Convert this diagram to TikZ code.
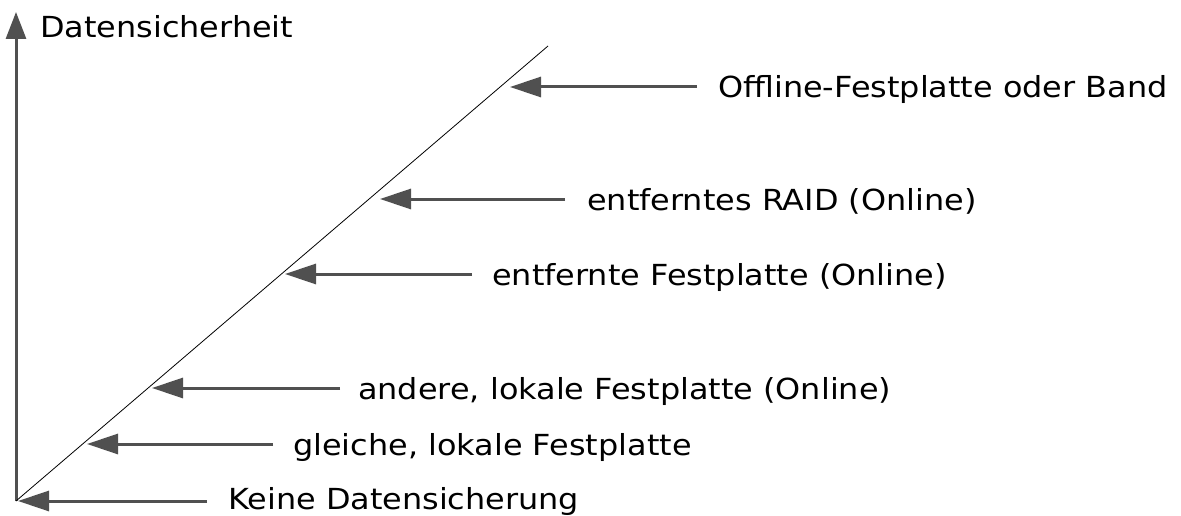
\documentclass[tikz,border=0pt]{standalone}
\usepackage{fontspec}
\setmainfont{DejaVu Sans}[FakeStretch=1.10]
\usetikzlibrary{arrows.meta}
\definecolor{arrgray}{HTML}{505050}
\tikzset{
  lbl/.style={anchor=base west, inner sep=0pt, font=\fontsize{29}{34}\selectfont, text=black},
  arr/.style={draw=arrgray, line width=3pt, -{Triangle[length=31pt,width=20pt]}},
  axis/.style={draw=arrgray, line width=3pt, -{Triangle[length=27pt,width=20pt]}},
  diag/.style={draw=black, line width=0.8pt}
}
\begin{document}
\begin{tikzpicture}[x=1pt,y=-1pt]
\useasboundingbox (0,0) rectangle (1181,516);
% axis
\coordinate (o) at (16,501);
\coordinate (top) at (16,12);
\coordinate (dend) at (548,46);
\draw[axis] (o) -- (top);
\node[lbl] (ylab) at (40,38) {Datensicherheit};
\draw[diag] (o) -- (dend);
% labels
\node[lbl] (t1) at (718,98) {Offline-Festplatte oder Band};
\node[lbl] (t2) at (587,210) {entferntes RAID (Online)};
\node[lbl] (t3) at (492,285) {entfernte Festplatte (Online)};
\node[lbl] (t4) at (358,399) {andere, lokale Festplatte (Online)};
\node[lbl] (t5) at (293,455) {gleiche, lokale Festplatte};
\node[lbl] (t6) at (228,509) {Keine Datensicherung};
% arrow ends
\coordinate (s1) at (697,87);  \coordinate (h1) at (510,87);
\coordinate (s2) at (565,199); \coordinate (h2) at (380,199);
\coordinate (s3) at (472,274); \coordinate (h3) at (285,274);
\coordinate (s4) at (340,388); \coordinate (h4) at (152,388);
\coordinate (s5) at (273,444); \coordinate (h5) at (87,444);
\coordinate (s6) at (207,501); \coordinate (h6) at (18,501);
\foreach \i in {1,...,6} {\draw[arr] (s\i) -- (h\i);}
\end{tikzpicture}
\end{document}
